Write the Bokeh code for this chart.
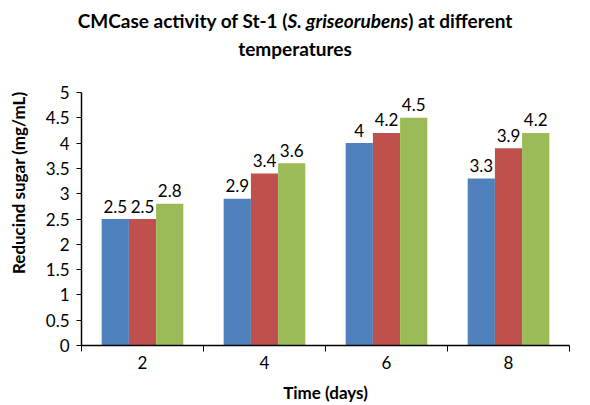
from bokeh.plotting import figure
from bokeh.models import ColumnDataSource, FixedTicker, Div, Range1d
from bokeh.layouts import column, row
from bokeh.transform import dodge
from bokeh.embed import file_html
from bokeh.resources import INLINE
from bokeh.core.properties import value

# ---- data ----
days = ["2", "4", "6", "8"]
series_1 = [2.5, 2.9, 4.0, 3.3]
series_2 = [2.5, 3.4, 4.2, 3.9]
series_3 = [2.8, 3.6, 4.5, 4.2]
y_ticks = [0, 0.5, 1, 1.5, 2, 2.5, 3, 3.5, 4, 4.5, 5]
colors = ["#4F81BD", "#C0504D", "#9BBB59"]

FONT = "Lato"
BAR_W = 0.223

xs = [i + 1 for i in range(len(days))]
src = ColumnDataSource(dict(
    x=xs,
    s1=series_1, s2=series_2, s3=series_3,
    l1=[f"{v:g}" for v in series_1],
    l2=[f"{v:g}" for v in series_2],
    l3=[f"{v:g}" for v in series_3],
))

title = Div(
    text=('<div style="width:590px;text-align:center;font-family:Lato;'
          'font-weight:bold;font-size:19px;line-height:28px;padding-top:7px;'
          'color:#000;">CMCase activity of St-1 (<i>S. griseorubens</i>) at different'
          '<br>temperatures</div>'),
    width=590, height=70, margin=(0, 0, 0, 0),
)

ytitle = Div(
    text=('<div style="position:relative;width:40px;height:335px;">'
          '<div style="position:absolute;left:19px;top:113px;'
          'transform:translate(-50%,-50%) rotate(-90deg);white-space:nowrap;'
          'font-family:Lato;font-weight:bold;font-size:17px;color:#000;">'
          'Reducind sugar (mg/mL)</div></div>'),
    width=40, height=335, margin=(0, 0, 0, 0),
)

p = figure(width=550, height=335,
           x_range=Range1d(0.5, len(days) + 0.5), y_range=Range1d(0, 5),
           output_backend="svg", toolbar_location=None,
           min_border_left=41, min_border_right=21,
           min_border_top=22, min_border_bottom=60,
           margin=(0, 0, 0, 0))
p.outline_line_color = None
p.xgrid.visible = False
p.ygrid.visible = False

for key, lbl, off, col in [("s1", "l1", -BAR_W, colors[0]),
                           ("s2", "l2", 0.0, colors[1]),
                           ("s3", "l3", BAR_W, colors[2])]:
    p.vbar(x=dodge("x", off, range=p.x_range), top=key, width=BAR_W,
           bottom=0, source=src, fill_color=col, line_color=None)
    p.text(x=dodge("x", off, range=p.x_range), y=key, text=lbl, source=src,
           text_align="center", text_baseline="alphabetic", y_offset=-13,
           text_font=value(FONT), text_font_size="17px", text_color="#000000")

# x axis
p.xaxis.ticker = FixedTicker(ticks=xs,
                             minor_ticks=[x - 0.5 for x in xs] + [xs[-1] + 0.5])
p.xaxis.major_label_overrides = {x: d for x, d in zip(xs, days)}
p.xaxis.major_tick_out = 0
p.xaxis.major_tick_in = 0
p.xaxis.minor_tick_out = 6
p.xaxis.minor_tick_in = 0
p.xaxis.axis_label = "Time (days)"

# y axis
p.yaxis.ticker = FixedTicker(ticks=y_ticks, minor_ticks=[])
p.yaxis.major_label_overrides = {t: f"{t:g}" for t in y_ticks}
p.yaxis.major_tick_out = 5
p.yaxis.major_tick_in = 0
p.yaxis.minor_tick_out = 0

for ax in (p.xaxis[0], p.yaxis[0]):
    ax.axis_line_color = "#000000"
    ax.axis_line_width = 1.5
    ax.major_tick_line_color = "#000000"
    ax.minor_tick_line_color = "#000000"
    ax.major_label_text_font = FONT
    ax.major_label_text_font_size = "17px"
    ax.major_label_text_color = "#000000"
    ax.axis_label_text_font = FONT
    ax.axis_label_text_font_style = "bold"
    ax.axis_label_text_font_size = "17px"
    ax.axis_label_text_color = "#000000"

p.xaxis.major_label_standoff = 4
p.xaxis.axis_label_standoff = 10
p.yaxis.major_label_standoff = 7
p.yaxis.major_label_orientation = "horizontal"

layout = column(title, row(ytitle, p, margin=(0, 0, 0, 0)), margin=(0, 0, 0, 0))
open("out.html", "w").write(file_html(layout, INLINE))
